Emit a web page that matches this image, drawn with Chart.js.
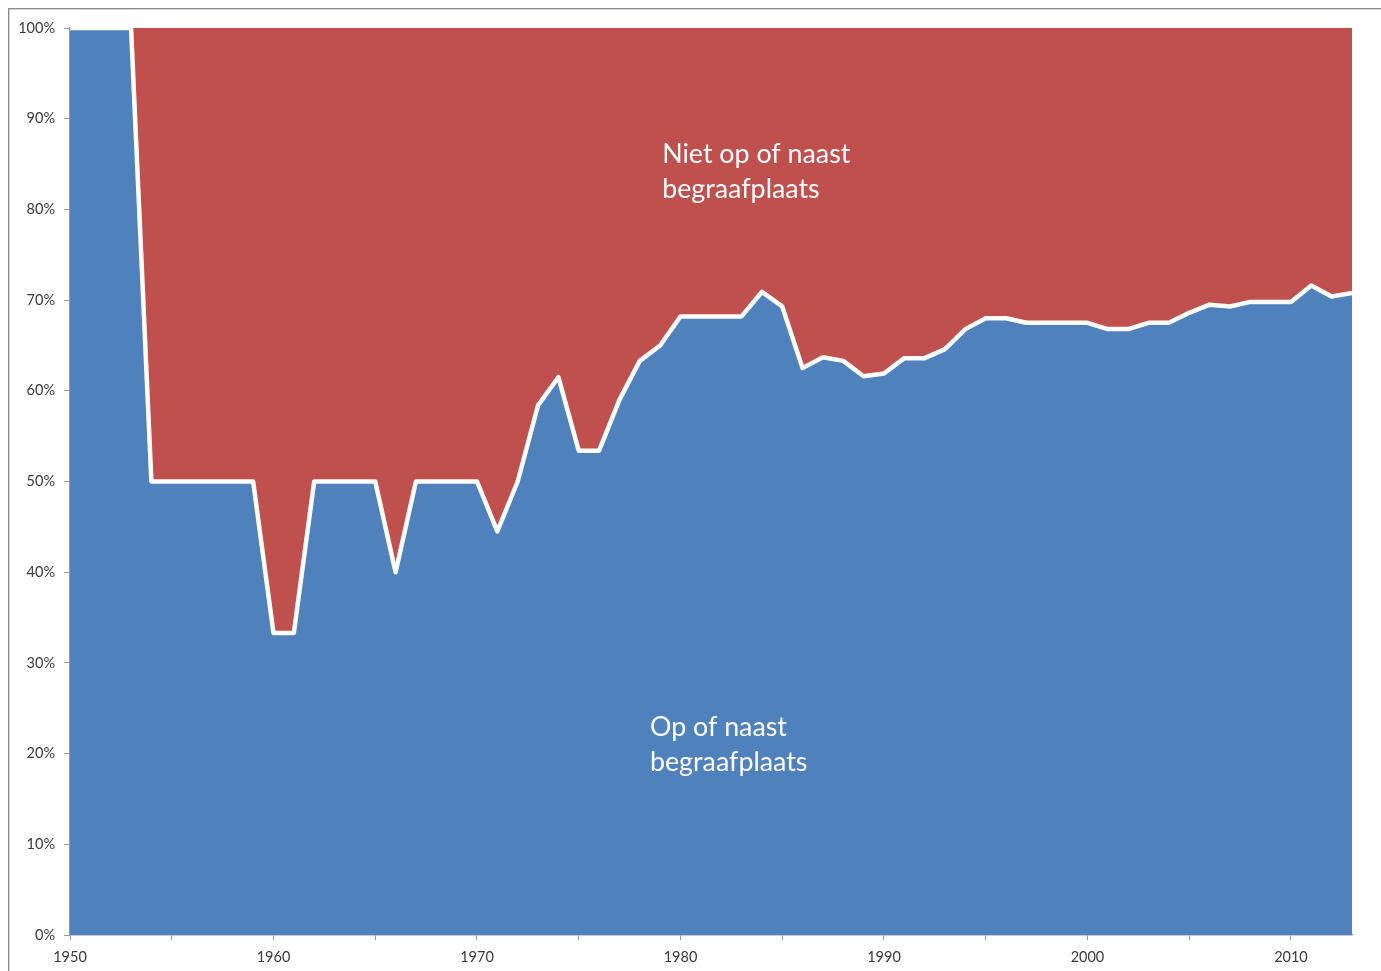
<!DOCTYPE html>
<html>
<head>
<meta charset="utf-8">
<script src="https://cdn.jsdelivr.net/npm/chart.js@4/dist/chart.umd.min.js"></script>
<style>
  html, body { margin:0; padding:0; background:#fff; overflow:hidden; }
  #frame { position:absolute; left:8px; top:8px; width:1400px; height:1000px; border-top:1px solid #8c8c8c; border-left:1px solid #8c8c8c; box-shadow: inset 1px 1px 0 #d0d0d0; }
  #wrap { position:absolute; left:0; top:0; width:1381px; height:971px; }
</style>
</head>
<body>
<div id="frame"></div>
<div id="wrap"><canvas id="chart"></canvas></div>
<script>
// share (%) buried on or next to a cemetery, per year
const years = [1950,1951,1952,1953,1954,1955,1956,1957,1958,1959,
               1960,1961,1962,1963,1964,1965,1966,1967,1968,1969,
               1970,1971,1972,1973,1974,1975,1976,1977,1978,1979,
               1980,1981,1982,1983,1984,1985,1986,1987,1988,1989,
               1990,1991,1992,1993,1994,1995,1996,1997,1998,1999,
               2000,2001,2002,2003,2004,2005,2006,2007,2008,2009,
               2010,2011,2012,2013];
const opOfNaast = [100,100,100,100,50,50,50,50,50,50,
                   33.3,33.3,50,50,50,50,40,50,50,50,
                   50,44.5,50,58.4,61.5,53.4,53.4,59.0,63.3,65.0,
                   68.2,68.2,68.2,68.2,70.9,69.3,62.5,63.7,63.3,61.6,
                   61.9,63.6,63.6,64.6,66.8,68.0,68.0,67.5,67.5,67.5,
                   67.5,66.8,66.8,67.5,67.5,68.6,69.5,69.3,69.8,69.8,
                   69.8,71.6,70.4,70.8];
const yTicks = [0,10,20,30,40,50,60,70,80,90,100];
const xLabelYears = [1950,1960,1970,1980,1990,2000,2010];

// text labels placed in data coordinates
const areaLabels = [
  { lines:['Niet op of naast','begraafplaats'], x:1979.1, y:86.1 },
  { lines:['Op of naast','begraafplaats'], x:1978.5, y:22.9 }
];

const BLUE = '#4f81bd', RED = '#c0504d', AXIS = '#999999', TXT = '#3a3a3a';
const FONT = 'Lato, "Open Sans", sans-serif';

const points = years.map((y,i)=>({ x:y, y:opOfNaast[i] }));

const labelPlugin = {
  id:'areaLabels',
  afterDatasetsDraw(chart){
    const {ctx, scales:{x, y}} = chart;
    ctx.save();
    ctx.fillStyle = '#fff';
    ctx.font = '26.8px ' + FONT;
    ctx.textAlign = 'left';
    ctx.textBaseline = 'middle';
    areaLabels.forEach(l=>{
      const px = x.getPixelForValue(l.x), py = y.getPixelForValue(l.y);
      l.lines.forEach((t,i)=> ctx.fillText(t, px, py + i*35));
    });
    ctx.restore();
  }
};

new Chart(document.getElementById('chart'), {
  type:'line',
  data:{
    datasets:[
      { label:'Op of naast begraafplaats', data:points, fill:'origin', backgroundColor:BLUE,
        borderColor:'#ffffff', borderWidth:4.5, pointRadius:0, tension:0, borderJoinStyle:'round' },
      { label:'Niet op of naast begraafplaats', data:points, fill:'end', backgroundColor:RED,
        borderWidth:0, borderColor:'rgba(0,0,0,0)', pointRadius:0, tension:0 }
    ]
  },
  options:{
    responsive:true, maintainAspectRatio:false, animation:false,
    layout:{ padding:{ left:0, top:28, right:29, bottom:0 } },
    plugins:{ legend:{ display:false }, tooltip:{ enabled:false } },
    scales:{
      x:{
        type:'linear', min:1950, max:2013,
        afterFit(s){ s.height = 36; },
        afterBuildTicks(s){ const t=[]; for(let v=1950; v<=2010; v+=5) t.push({value:v}); s.ticks = t; },
        grid:{ drawOnChartArea:false, drawTicks:true, tickLength:5, color:AXIS },
        border:{ color:AXIS, width:1.5 },
        ticks:{ autoSkip:false, maxRotation:0, padding:9, color:TXT, font:{ family:FONT, size:14.5 },
                callback:v=> xLabelYears.includes(v) ? String(v) : '' }
      },
      y:{
        min:0, max:100,
        afterFit(s){ s.width = 70; },
        afterBuildTicks(s){ s.ticks = yTicks.map(v=>({value:v})); },
        grid:{ drawOnChartArea:false, drawTicks:true, tickLength:6, color:AXIS },
        border:{ color:AXIS, width:1.5 },
        ticks:{ padding:9, color:TXT, font:{ family:FONT, size:14.5 }, callback:v=> v + '%' }
      }
    }
  },
  plugins:[labelPlugin]
});
</script>
</body>
</html>
